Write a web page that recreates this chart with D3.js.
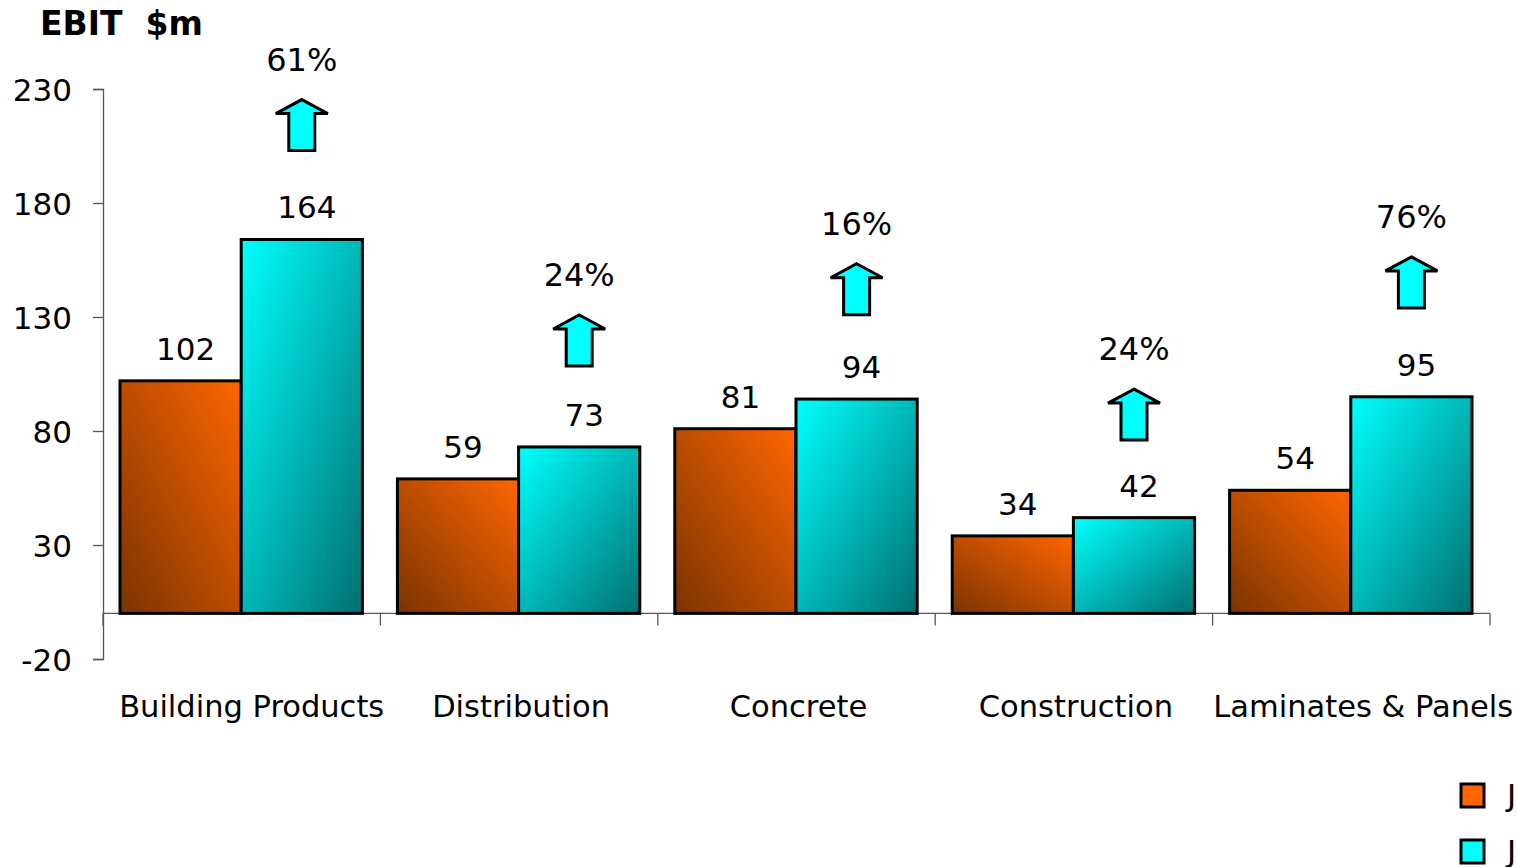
<!DOCTYPE html>
<html><head><meta charset="utf-8">
<script src="https://cdnjs.cloudflare.com/ajax/libs/d3/7.8.5/d3.min.js"></script>
<style>
html,body{margin:0;padding:0;background:#fff;overflow:hidden;}
text{font-family:"DejaVu Sans",Verdana,sans-serif;fill:#000;}
</style></head>
<body>
<svg id="chart" width="1517" height="867"></svg>
<script>
const categories = ["Building Products","Distribution","Concrete","Construction","Laminates & Panels"];
const seriesNames = ["June 2002","June 2003"];
const prevValues = [102, 59, 81, 34, 54];
const currValues = [164, 73, 94, 42, 95];
const growthLabels = ["61%","24%","16%","24%","76%"];
const arrowBase = [203, 108.5, 131, 76, 134];
const yTicks = [-20, 30, 80, 130, 180, 230];

const svg = d3.select("#chart");
const defs = svg.append("defs");
const g1 = defs.append("linearGradient").attr("id","gOrange").attr("x1",0).attr("y1",1).attr("x2",1).attr("y2",0);
g1.append("stop").attr("offset","0%").attr("stop-color","#7a3300");
g1.append("stop").attr("offset","100%").attr("stop-color","#ff6600");
const g2 = defs.append("linearGradient").attr("id","gCyan").attr("x1",0).attr("y1",0).attr("x2",1).attr("y2",1);
g2.append("stop").attr("offset","0%").attr("stop-color","#00ffff");
g2.append("stop").attr("offset","100%").attr("stop-color","#007070");
const fills = ["url(#gOrange)","url(#gCyan)"];
const legendFills = ["#ff6600","#00ffff"];

const y = d3.scaleLinear().domain([-20,230]).range([659,89]);
const x = d3.scaleBand().domain(categories).range([103,1490]).padding(0);
const xi = d3.scaleBand().domain([0,1]).range([17, x.bandwidth()-18]).padding(0);

// Y axis
const yAxis = d3.axisLeft(y).tickValues(yTicks).tickSize(10).tickPadding(21).tickFormat(d=>String(d));
const ya = svg.append("g").attr("transform","translate(103,0)").call(yAxis);
ya.select(".domain").attr("stroke","#555").attr("stroke-width",1.3);
ya.selectAll(".tick line").attr("stroke","#555").attr("stroke-width",1.3);
ya.selectAll("text").style("font-size","31px").attr("fill","#000").attr("dy","0.36em").style("font-family","'DejaVu Sans',Verdana,sans-serif");

// X axis at zero
const xa = svg.append("g").attr("transform",`translate(0,${y(0)})`);
xa.append("line").attr("x1",103).attr("x2",1490).attr("stroke","#555").attr("stroke-width",1.3);
const bounds = categories.map(c=>x(c)).concat([x.range()[1]]);
xa.selectAll("line.tk").data(bounds).enter().append("line").attr("class","tk")
  .attr("x1",d=>d).attr("x2",d=>d).attr("y1",0).attr("y2",12).attr("stroke","#555").attr("stroke-width",1.3);

// category labels
svg.selectAll("text.cat").data(categories).enter().append("text").attr("class","cat")
  .attr("x",(d,i)=>x(d)+x.bandwidth()/2 + (i===0?10:(i===4?12:2))).attr("y",717).attr("text-anchor","middle")
  .style("font-size","30.5px").text(d=>d);

// bars
const data = categories.map((c,i)=>({c, vals:[prevValues[i], currValues[i]]}));
const groups = svg.selectAll("g.grp").data(data).enter().append("g").attr("class","grp")
  .attr("transform",d=>`translate(${x(d.c)},0)`);
groups.selectAll("rect").data(d=>d.vals.map((v,k)=>({v,k}))).enter().append("rect")
  .attr("x",d=>xi(d.k)).attr("width",xi.bandwidth())
  .attr("y",d=>y(d.v)).attr("height",d=>y(0)-y(d.v))
  .attr("fill",d=>fills[d.k]).attr("stroke","#000").attr("stroke-width",3);
groups.selectAll("text.val").data(d=>d.vals.map((v,k)=>({v,k}))).enter().append("text").attr("class","val")
  .attr("x",d=>xi(d.k)+xi.bandwidth()/2+5).attr("y",d=>y(d.v)-21).attr("text-anchor","middle")
  .style("font-size","31px").text(d=>d.v);

// arrows
const aw = 52, sw = 26, ah = 14, aH = 51;
const arrowPath = (cx, top) => {
  const b = top + aH;
  return `M${cx},${top} L${cx+aw/2},${top+ah} L${cx+sw/2},${top+ah} L${cx+sw/2},${b} L${cx-sw/2},${b} L${cx-sw/2},${top+ah} L${cx-aw/2},${top+ah} Z`;
};
categories.forEach((c,i)=>{
  const cx = x(c) + xi(1) + xi.bandwidth()/2;
  const bottom = y(arrowBase[i]);
  const top = bottom - aH;
  svg.append("path").attr("d", arrowPath(cx, top)).attr("fill","#00ffff").attr("stroke","#000").attr("stroke-width",3).attr("stroke-linejoin","miter");
  svg.append("text").attr("x",cx).attr("y",top-29).attr("text-anchor","middle").style("font-size","32px").text(growthLabels[i]);
});

// title
svg.append("text").attr("x",40).attr("y",35).style("font-size","33px").style("font-weight","bold")
  .attr("xml:space","preserve").style("white-space","pre").text("EBIT  $m");

// legend
const lg = svg.selectAll("g.leg").data(seriesNames).enter().append("g").attr("class","leg")
  .attr("transform",(d,i)=>`translate(1461,${784+i*56})`);
lg.append("rect").attr("width",23).attr("height",23).attr("fill",(d,i)=>legendFills[i]).attr("stroke","#000").attr("stroke-width",3);
lg.append("text").attr("x",46).attr("y",22).style("font-size","31px").text(d=>d);
</script>
</body></html>
